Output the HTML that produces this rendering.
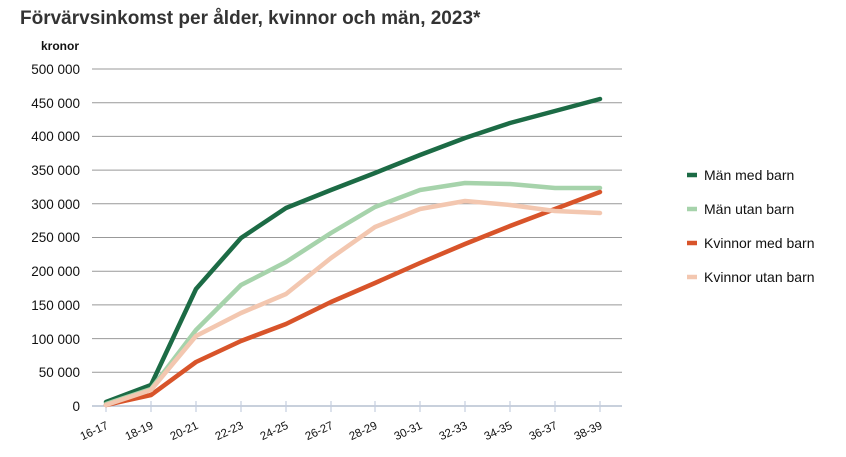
<!DOCTYPE html>
<html><head><meta charset="utf-8"><style>
body{margin:0;background:#fff;}
svg{display:block;font-family:"Liberation Sans",sans-serif;}
</style></head><body>
<svg width="846" height="457" viewBox="0 0 846 457">
<text x="20" y="24" font-size="19" font-weight="bold" fill="#333">Förvärvsinkomst per ålder, kvinnor och män, 2023*</text>
<text x="79" y="50" font-size="12" font-weight="bold" fill="#111" text-anchor="end">kronor</text>
<g stroke="#999" stroke-width="1">
<line x1="92" y1="69" x2="622" y2="69"/><line x1="92" y1="102.7" x2="622" y2="102.7"/>
<line x1="92" y1="136.4" x2="622" y2="136.4"/><line x1="92" y1="170.1" x2="622" y2="170.1"/>
<line x1="92" y1="203.8" x2="622" y2="203.8"/><line x1="92" y1="237.5" x2="622" y2="237.5"/>
<line x1="92" y1="271.2" x2="622" y2="271.2"/><line x1="92" y1="304.9" x2="622" y2="304.9"/>
<line x1="92" y1="338.6" x2="622" y2="338.6"/><line x1="92" y1="372.3" x2="622" y2="372.3"/>
</g>
<line x1="92" y1="406" x2="622" y2="406" stroke="#a8b4c8" stroke-width="1.2"/>
<g stroke="#c4cee0" stroke-width="1.2">
<line x1="106" y1="401" x2="106" y2="412"/><line x1="151" y1="401" x2="151" y2="412"/><line x1="196" y1="401" x2="196" y2="412"/><line x1="241" y1="401" x2="241" y2="412"/><line x1="286" y1="401" x2="286" y2="412"/><line x1="331" y1="401" x2="331" y2="412"/><line x1="375" y1="401" x2="375" y2="412"/><line x1="420" y1="401" x2="420" y2="412"/><line x1="465" y1="401" x2="465" y2="412"/><line x1="510" y1="401" x2="510" y2="412"/><line x1="555" y1="401" x2="555" y2="412"/><line x1="600" y1="401" x2="600" y2="412"/>
</g>
<g font-size="13.5" fill="#111" text-anchor="end">
<text x="80" y="74">500 000</text><text x="80" y="108">450 000</text><text x="80" y="141">400 000</text><text x="80" y="175">350 000</text><text x="80" y="209">300 000</text><text x="80" y="242">250 000</text><text x="80" y="276">200 000</text><text x="80" y="310">150 000</text><text x="80" y="344">100 000</text><text x="80" y="377">50 000</text><text x="80" y="411">0</text>
</g>
<g font-size="11.5" fill="#111" text-anchor="end">
<text transform="translate(109,428) rotate(-25)">16-17</text>
<text transform="translate(154,428) rotate(-25)">18-19</text>
<text transform="translate(199,428) rotate(-25)">20-21</text>
<text transform="translate(244,428) rotate(-25)">22-23</text>
<text transform="translate(289,428) rotate(-25)">24-25</text>
<text transform="translate(334,428) rotate(-25)">26-27</text>
<text transform="translate(378,428) rotate(-25)">28-29</text>
<text transform="translate(423,428) rotate(-25)">30-31</text>
<text transform="translate(468,428) rotate(-25)">32-33</text>
<text transform="translate(513,428) rotate(-25)">34-35</text>
<text transform="translate(558,428) rotate(-25)">36-37</text>
<text transform="translate(603,428) rotate(-25)">38-39</text>
</g>
<g fill="none" stroke-width="4.5" stroke-linejoin="round" stroke-linecap="round">
<polyline stroke="#1c6b45" points="106,402 151,385 196,289 241,238 286,208 331,190 375,173 420,155 465,138 510,123 555,111 600,99"/>
<polyline stroke="#a6d3ab" points="106,404 151,389 196,330 241,285 286,262 331,233 375,207 420,190 465,183 510,184 555,188 600,188"/>
<polyline stroke="#d8542a" points="106,405 151,395 196,362 241,341 286,324 331,302 375,283 420,263 465,244 510,226 555,209 600,192"/>
<polyline stroke="#f3c7b0" points="106,405 151,390 196,336 241,313 286,294 331,258 375,227 420,209 465,201 510,205 555,211 600,213"/>
</g>
<g font-size="14" fill="#111">
<line x1="687" y1="175" x2="697" y2="175" stroke="#1c6b45" stroke-width="4.5"/><text x="704" y="180">Män med barn</text>
<line x1="687" y1="209" x2="697" y2="209" stroke="#a6d3ab" stroke-width="4.5"/><text x="704" y="214">Män utan barn</text>
<line x1="687" y1="243" x2="697" y2="243" stroke="#d8542a" stroke-width="4.5"/><text x="704" y="248">Kvinnor med barn</text>
<line x1="687" y1="277" x2="697" y2="277" stroke="#f3c7b0" stroke-width="4.5"/><text x="704" y="282">Kvinnor utan barn</text>
</g>
</svg>
</body></html>
